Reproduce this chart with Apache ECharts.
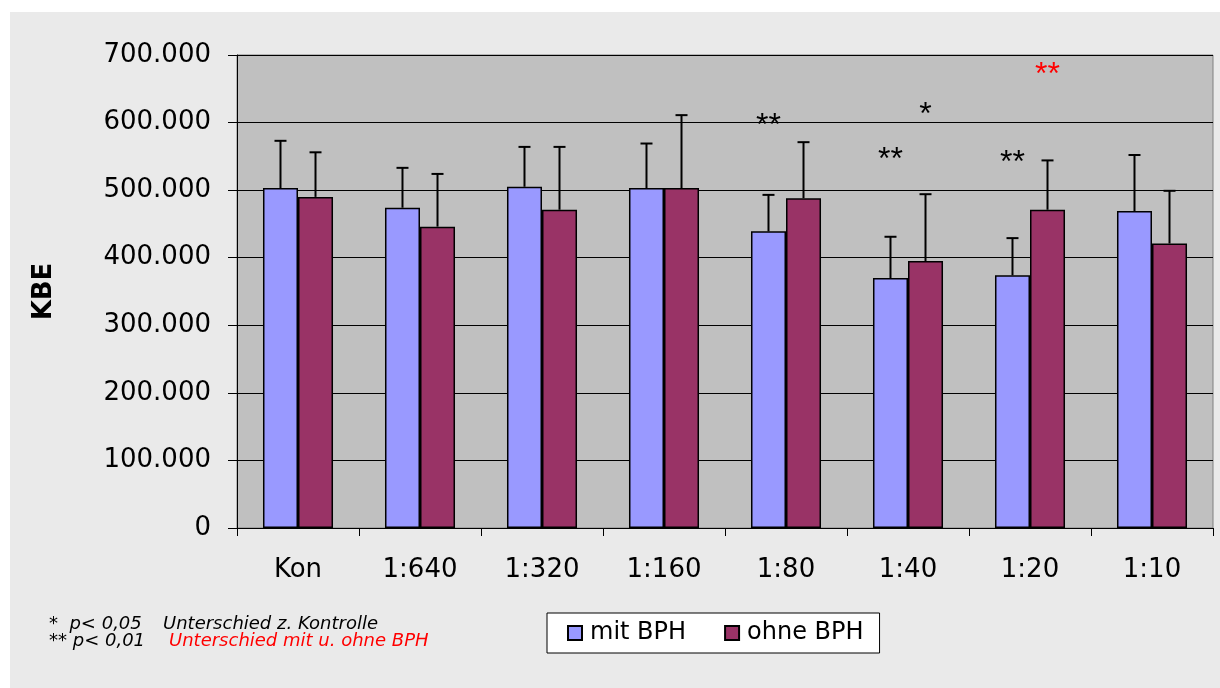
<!DOCTYPE html>
<html>
<head>
<meta charset="utf-8">
<script src="https://cdn.jsdelivr.net/npm/echarts@6/dist/echarts.min.js"></script>
<style>
  html, body { margin: 0; padding: 0; background: #ffffff; }
  #chart { width: 1220px; height: 688px; }
</style>
</head>
<body>
<div id="chart"></div>
<script>
// KBE counts per dilution, with and without BPH (mean and upper SD)
const categories = ['Kon', '1:640', '1:320', '1:160', '1:80', '1:40', '1:20', '1:10'];
const mitBPH  = [503000, 474000, 505000, 503000, 439000, 370000, 374000, 469000];
const mitSD   = [ 70000,  59000,  59000,  66000,  54000,  61000,  55000,  83000];
const ohneBPH = [490000, 446000, 471000, 503000, 488000, 395000, 471000, 421000];
const ohneSD  = [ 66000,  78000,  93000, 108000,  83000,  99000,  73000,  78000];
const yTicks  = [0, 100000, 200000, 300000, 400000, 500000, 600000, 700000];

// significance markers: category, bar (0 = mit, 1 = ohne), level, text
const starsBlack = [
  ['1:80', 0, 605000, '**'],
  ['1:40', 0, 555000, '**'],
  ['1:40', 1, 621000, '*'],
  ['1:20', 0, 550000, '**']
];
const starsRed = [
  ['1:20', 1, 681000, '**']
];

const FONT = 'DejaVu Sans';
const STAR_FONT = 'Liberation Sans';
const CAT_GAP = 0.426;

function fmt(v) {
  return String(v).replace(/\B(?=(\d{3})+(?!\d))/g, '.');
}

function barCenter(api, catIdx, side) {
  const x = api.coord([catIdx, 0])[0];
  const band = api.size([1, 0])[0];
  const barW = band * (1 - CAT_GAP) / 2;
  return x + (side === 0 ? -barW / 2 : barW / 2);
}

function errorRenderer(side) {
  return function (params, api) {
    const idx = api.value(0);
    const cx = barCenter(api, idx, side);
    const yBase = api.coord([idx, api.value(1)])[1];
    const yTop = api.coord([idx, api.value(1) + api.value(2)])[1];
    const st = { stroke: '#000', lineWidth: 2 };
    return {
      type: 'group',
      children: [
        { type: 'line', shape: { x1: cx, y1: yBase, x2: cx, y2: yTop }, style: st },
        { type: 'line', shape: { x1: cx - 6, y1: yTop, x2: cx + 6, y2: yTop }, style: st }
      ]
    };
  };
}

function starRenderer(list, color) {
  return function (params, api) {
    const item = list[params.dataIndex];
    const idx = categories.indexOf(item[0]);
    const cx = barCenter(api, idx, item[1]);
    const cy = api.coord([idx, item[2]])[1];
    return {
      type: 'text',
      x: cx, y: cy + 7,
      style: {
        text: item[3], fill: color, font: '32px "' + STAR_FONT + '"',
        align: 'center', verticalAlign: 'middle'
      }
    };
  };
}

const chart = echarts.init(document.getElementById('chart'));
chart.setOption({
  backgroundColor: '#ffffff',
  animation: false,
  graphic: [
    { type: 'rect', left: 10, top: 12, z: -10,
      shape: { width: 1210, height: 676 }, style: { fill: '#eaeaea' } },
    { type: 'text', left: 49, top: 615,
      style: { text: '*  p< 0,05', font: 'italic 18px "' + FONT + '"', fill: '#000' } },
    { type: 'text', left: 163, top: 615,
      style: { text: 'Unterschied z. Kontrolle', font: 'italic 18px "' + FONT + '"', fill: '#000' } },
    { type: 'text', left: 49, top: 632,
      style: { text: '** p< 0,01', font: 'italic 18px "' + FONT + '"', fill: '#000' } },
    { type: 'text', left: 169, top: 632,
      style: { text: 'Unterschied mit u. ohne BPH', font: 'italic 18px "' + FONT + '"', fill: '#ff0000' } }
  ],
  grid: {
    left: 237, right: 7, top: 55, bottom: 160,
    show: true, backgroundColor: '#c0c0c0', borderColor: '#808080', borderWidth: 1
  },
  legend: {
    data: ['mit BPH', 'ohne BPH'],
    icon: 'rect',
    left: 547, top: 613,
    backgroundColor: '#ffffff', borderColor: '#000', borderWidth: 1,
    padding: [8, 16, 8, 20],
    itemWidth: 14, itemHeight: 14, itemGap: 38,
    textStyle: { fontFamily: FONT, fontSize: 24, color: '#000', padding: [0, 0, 0, 3] }
  },
  xAxis: {
    type: 'category',
    data: categories,
    axisLine: { lineStyle: { color: '#000', width: 1 } },
    axisTick: { show: true, length: 8, lineStyle: { color: '#000' } },
    axisLabel: { fontFamily: FONT, fontSize: 26, color: '#000', margin: 29 }
  },
  yAxis: {
    type: 'value',
    min: yTicks[0], max: yTicks[yTicks.length - 1], interval: yTicks[1] - yTicks[0],
    name: 'KBE', nameLocation: 'middle', nameRotate: 90, nameGap: 180,
    nameTextStyle: { fontFamily: FONT, fontSize: 26, fontWeight: 'bold', color: '#000' },
    axisLine: { show: true, lineStyle: { color: '#000', width: 1 } },
    axisTick: { show: true, length: 9, lineStyle: { color: '#000' } },
    axisLabel: { fontFamily: FONT, fontSize: 26, color: '#000', margin: 26, formatter: fmt },
    splitLine: { lineStyle: { color: '#000', width: 1 } }
  },
  series: [
    { name: 'mit BPH', type: 'bar', data: mitBPH, barGap: '0%', barCategoryGap: (CAT_GAP * 100) + '%',
      itemStyle: { color: '#9999ff', borderColor: '#000', borderWidth: 1.5 } },
    { name: 'ohne BPH', type: 'bar', data: ohneBPH,
      itemStyle: { color: '#993366', borderColor: '#000', borderWidth: 1.5 } },
    { type: 'custom', z: 5, renderItem: errorRenderer(0),
      data: mitBPH.map((v, i) => [i, v, mitSD[i]]) },
    { type: 'custom', z: 5, renderItem: errorRenderer(1),
      data: ohneBPH.map((v, i) => [i, v, ohneSD[i]]) },
    { type: 'custom', z: 6, renderItem: starRenderer(starsBlack, '#000'),
      data: starsBlack.map(s => [categories.indexOf(s[0]), s[2]]) },
    { type: 'custom', z: 6, renderItem: starRenderer(starsRed, '#ff0000'),
      data: starsRed.map(s => [categories.indexOf(s[0]), s[2]]) }
  ]
});
</script>
</body>
</html>
